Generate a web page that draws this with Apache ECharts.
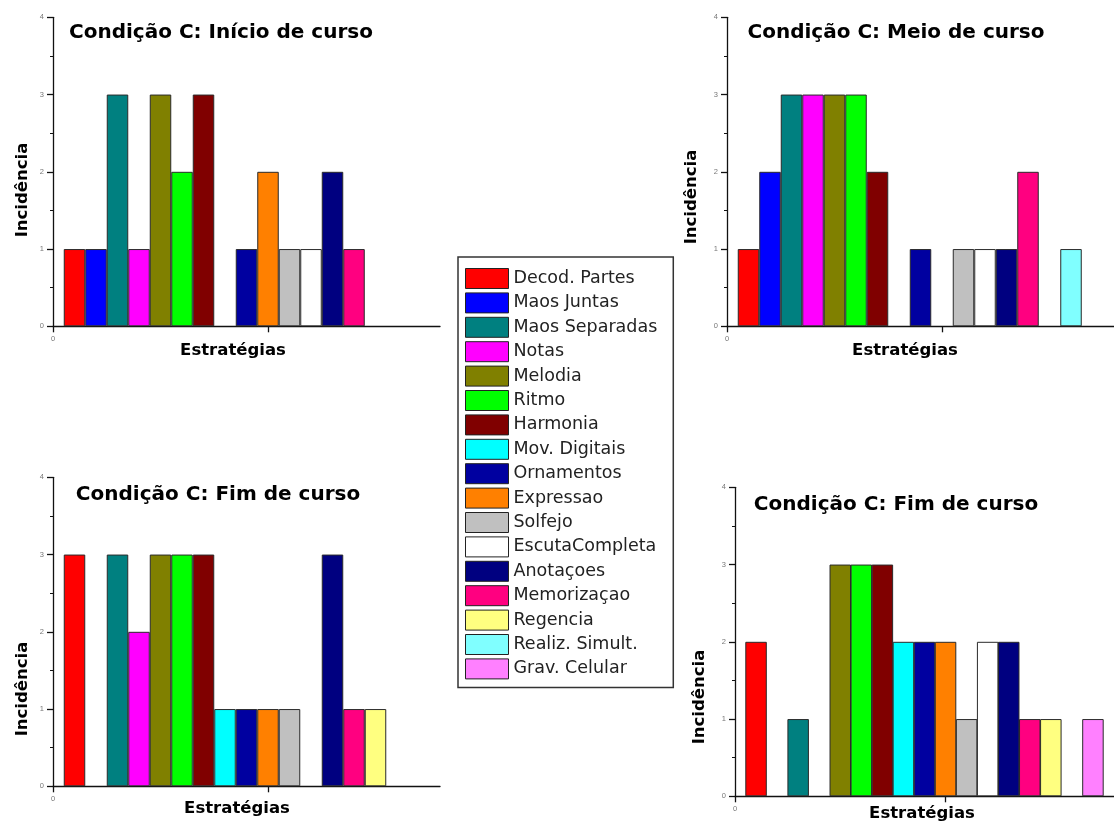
<!DOCTYPE html>
<html>
<head>
<meta charset="utf-8">
<script src="https://cdn.jsdelivr.net/npm/echarts@6/dist/echarts.min.js"></script>
<style>
  html, body { margin: 0; padding: 0; background: #fff; }
  #chart { width: 1114px; height: 823px; }
</style>
</head>
<body>
<div id="chart"></div>
<script>
// ---- data ----
const strategies = ['Decod. Partes', 'Maos Juntas', 'Maos Separadas', 'Notas', 'Melodia', 'Ritmo',
  'Harmonia', 'Mov. Digitais', 'Ornamentos', 'Expressao', 'Solfejo', 'EscutaCompleta',
  'Anotaçoes', 'Memorizaçao', 'Regencia', 'Realiz. Simult.', 'Grav. Celular'];

const inicioCurso = [1, 1, 3, 1, 3, 2, 3, 0, 1, 2, 1, 1, 2, 1, 0, 0, 0];
const meioCurso   = [1, 2, 3, 3, 3, 3, 2, 0, 1, 0, 1, 1, 1, 2, 0, 1, 0];
const fimCursoA   = [3, 0, 3, 2, 3, 3, 3, 1, 1, 1, 1, 0, 3, 1, 1, 0, 0];
const fimCursoB   = [2, 0, 1, 0, 3, 3, 3, 2, 2, 2, 1, 2, 2, 1, 1, 0, 1];

const titles = ['Condição C: Início de curso', 'Condição C: Meio de curso',
  'Condição C: Fim de curso', 'Condição C: Fim de curso'];
const yAxisName = 'Incidência';
const xAxisName = 'Estratégias';

// ---- styles ----
const palette = ['#ff0000', '#0000ff', '#008080', '#ff00ff', '#808000', '#00ff00',
  '#800000', '#00ffff', '#0000a0', '#ff8000', '#c0c0c0', '#ffffff',
  '#000080', '#ff0080', '#ffff80', '#80ffff', '#ff80ff'];

const panels = [
  { values: inicioCurso, grid: { left: 53, top: 17.3, width: 387, height: 309 },
    titlePos: [221, 33], yNamePos: [23, 190], xNamePos: [233, 351] },
  { values: meioCurso, grid: { left: 727, top: 17.3, width: 387, height: 309 },
    titlePos: [896, 33], yNamePos: [692, 197], xNamePos: [905, 351] },
  { values: fimCursoA, grid: { left: 53, top: 477.3, width: 387, height: 309 },
    titlePos: [218, 495], yNamePos: [23, 689], xNamePos: [237, 809] },
  { values: fimCursoB, grid: { left: 735, top: 487.3, width: 387, height: 309 },
    titlePos: [896, 505], yNamePos: [700, 697], xNamePos: [922, 814] }
];

const slotCount = 18;           // x axis spans 18 strategy slots
const axisLineStyle = { color: '#111', width: 1.3 };
const tickLabel = { fontSize: 7.5, color: '#777', fontFamily: 'Liberation Sans' };

const grids = [], xAxes = [], yAxes = [], series = [], graphics = [];

panels.forEach((p, pi) => {
  grids.push(Object.assign({ containLabel: false }, p.grid));
  xAxes.push({
    type: 'value', gridIndex: pi, min: 0, max: slotCount,
    axisLine: { show: true, onZero: false, lineStyle: axisLineStyle },
    axisTick: { show: true, length: 6, inside: false, customValues: [0, 10], lineStyle: axisLineStyle },
    axisLabel: Object.assign({ show: true, margin: 9, customValues: [0] }, tickLabel),
    splitLine: { show: false }
  });
  yAxes.push({
    type: 'value', gridIndex: pi, min: 0, max: 4, interval: 1,
    axisLine: { show: true, onZero: false, lineStyle: axisLineStyle },
    axisTick: { show: true, length: 6, inside: false, lineStyle: axisLineStyle },
    minorTick: { show: true, splitNumber: 2, length: 3, lineStyle: { color: '#111', width: 1 } },
    axisLabel: Object.assign({ margin: 9 }, tickLabel),
    splitLine: { show: false }
  });
  const barW = p.grid.width / slotCount;
  strategies.forEach((name, i) => {
    const v = p.values[i];
    series.push({
      type: 'bar', name: name, xAxisIndex: pi, yAxisIndex: pi,
      barWidth: barW, barGap: '-100%',
      data: v > 0 ? [[i + 1, v]] : [],
      itemStyle: { color: palette[i], borderColor: '#2a2a2a', borderWidth: 1 },
      emphasis: { disabled: true }
    });
  });
  graphics.push({
    type: 'text', x: p.titlePos[0], y: p.titlePos[1],
    style: { text: titles[pi], font: 'bold 20px "DejaVu Sans"', fill: '#000',
      align: 'center', verticalAlign: 'middle', textAlign: 'center', textVerticalAlign: 'middle' }
  });
  graphics.push({
    type: 'text', x: p.yNamePos[0], y: p.yNamePos[1], rotation: Math.PI / 2,
    style: { text: yAxisName, font: 'bold 16.5px "DejaVu Sans"', fill: '#000',
      align: 'center', verticalAlign: 'middle', textAlign: 'center', textVerticalAlign: 'middle' }
  });
  graphics.push({
    type: 'text', x: p.xNamePos[0], y: p.xNamePos[1],
    style: { text: xAxisName, font: 'bold 16.5px "DejaVu Sans"', fill: '#000',
      align: 'center', verticalAlign: 'middle', textAlign: 'center', textVerticalAlign: 'middle' }
  });
});

const chart = echarts.init(document.getElementById('chart'), null, { renderer: 'canvas' });
chart.setOption({
  animation: false,
  backgroundColor: '#fff',
  grid: grids,
  xAxis: xAxes,
  yAxis: yAxes,
  legend: {
    orient: 'vertical', left: 458, top: 257,
    data: strategies, icon: 'rect',
    itemWidth: 43, itemHeight: 20, itemGap: 3.4,
    padding: [11, 16, 8, 7],
    borderColor: '#333', borderWidth: 1.5, backgroundColor: '#fff',
    selectedMode: false,
    itemStyle: { borderColor: '#222', borderWidth: 1 },
    textStyle: { fontFamily: 'DejaVu Sans', fontSize: 17.5, color: '#222', lineHeight: 20 }
  },
  series: series,
  graphic: graphics
});
</script>
</body>
</html>
